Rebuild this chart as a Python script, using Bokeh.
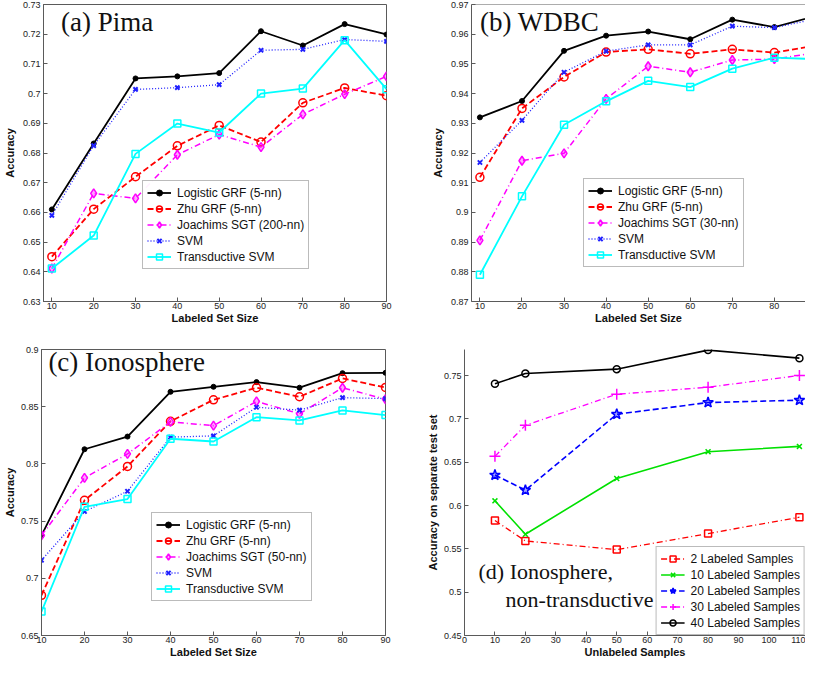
from bokeh.plotting import figure
from bokeh.layouts import column, row
from bokeh.models import FixedTicker, Range1d, Legend, LegendItem, Label, Span
from bokeh.embed import file_html
from bokeh.resources import INLINE

# ---------------- data ----------------
labeled_sizes = [10, 20, 30, 40, 50, 60, 70, 80, 90]
names_a = ["Logistic GRF (5-nn)", "Zhu GRF (5-nn)", "Joachims SGT (200-nn)", "SVM", "Transductive SVM"]
names_b = ["Logistic GRF (5-nn)", "Zhu GRF (5-nn)", "Joachims SGT (30-nn)", "SVM", "Transductive SVM"]
names_c = ["Logistic GRF (5-nn)", "Zhu GRF (5-nn)", "Joachims SGT (50-nn)", "SVM", "Transductive SVM"]

pima_logistic = [0.6610, 0.6832, 0.7051, 0.7058, 0.7069, 0.7210, 0.7162, 0.7234, 0.7199]
pima_zhu = [0.6451, 0.6611, 0.6720, 0.6824, 0.6893, 0.6837, 0.6969, 0.7019, 0.6993]
pima_joachims = [0.6411, 0.6664, 0.6647, 0.6794, 0.6862, 0.6820, 0.6930, 0.6998, 0.7058]
pima_svm = [0.6590, 0.6825, 0.7014, 0.7020, 0.7030, 0.7146, 0.7149, 0.7182, 0.7176]
pima_tsvm = [0.6411, 0.6522, 0.6797, 0.6899, 0.6869, 0.7000, 0.7017, 0.7180, 0.7015]

wdbc_logistic = [0.9320, 0.9375, 0.9544, 0.9595, 0.9609, 0.9583, 0.9649, 0.9624, 0.9662]
wdbc_zhu = [0.9118, 0.9350, 0.9456, 0.9540, 0.9549, 0.9534, 0.9549, 0.9538, 0.9562]
wdbc_joachims = [0.8906, 0.9174, 0.9199, 0.9382, 0.9492, 0.9472, 0.9513, 0.9516, 0.9538]
wdbc_svm = [0.9168, 0.9310, 0.9472, 0.9543, 0.9564, 0.9564, 0.9627, 0.9622, 0.9652]
wdbc_tsvm = [0.8790, 0.9054, 0.9295, 0.9374, 0.9443, 0.9422, 0.9484, 0.9521, 0.9516]

iono_logistic = [0.7375, 0.8128, 0.8239, 0.8630, 0.8674, 0.8715, 0.8666, 0.8793, 0.8796]
iono_zhu = [0.6851, 0.7682, 0.7978, 0.8372, 0.8560, 0.8666, 0.8587, 0.8747, 0.8668]
iono_joachims = [0.7375, 0.7878, 0.8087, 0.8367, 0.8334, 0.8546, 0.8438, 0.8666, 0.8565]
iono_svm = [0.7158, 0.7584, 0.7761, 0.8234, 0.8245, 0.8495, 0.8470, 0.8579, 0.8571]
iono_tsvm = [0.6709, 0.7625, 0.7693, 0.8220, 0.8196, 0.8408, 0.8380, 0.8467, 0.8427]

unlabeled_samples = [10, 20, 50, 80, 110]
lab2 = [0.5826, 0.5591, 0.5491, 0.5676, 0.5865]
lab10 = [0.6054, 0.5668, 0.6312, 0.6621, 0.6682]
lab20 = [0.6351, 0.6177, 0.7053, 0.7188, 0.7215]
lab30 = [0.6567, 0.6925, 0.7284, 0.7365, 0.7500]
lab40 = [0.7404, 0.7523, 0.7573, 0.7793, 0.7700]
d_names = ["2 Labeled Samples", "10 Labeled Samples", "20 Labeled Samples", "30 Labeled Samples", "40 Labeled Samples"]

# ticks
x_ticks_labeled = [10, 20, 30, 40, 50, 60, 70, 80, 90]
x_labels_labeled = ["10", "20", "30", "40", "50", "60", "70", "80", "90"]
pima_yticks = [0.63, 0.64, 0.65, 0.66, 0.67, 0.68, 0.69, 0.70, 0.71, 0.72, 0.73]
pima_ylabels = ["0.63", "0.64", "0.65", "0.66", "0.67", "0.68", "0.69", "0.7", "0.71", "0.72", "0.73"]
wdbc_yticks = [0.87, 0.88, 0.89, 0.90, 0.91, 0.92, 0.93, 0.94, 0.95, 0.96, 0.97]
wdbc_ylabels = ["0.87", "0.88", "0.89", "0.9", "0.91", "0.92", "0.93", "0.94", "0.95", "0.96", "0.97"]
iono_yticks = [0.65, 0.70, 0.75, 0.80, 0.85, 0.90]
iono_ylabels = ["0.65", "0.7", "0.75", "0.8", "0.85", "0.9"]
d_xticks = [0, 10, 20, 30, 40, 50, 60, 70, 80, 90, 100, 110]
d_xlabels = ["0", "10", "20", "30", "40", "50", "60", "70", "80", "90", "100", "110"]
d_yticks = [0.45, 0.50, 0.55, 0.60, 0.65, 0.70, 0.75]
d_ylabels = ["0.45", "0.5", "0.55", "0.6", "0.65", "0.7", "0.75"]

AX = "#5a5a5a"
SANS = "Liberation Sans"
SERIF = "Liberation Serif"


def style_axis(ax, ticks, labels, standoff):
    ax.ticker = FixedTicker(ticks=ticks)
    ax.major_label_overrides = {t: l for t, l in zip(ticks, labels)}
    ax.major_tick_in = 4
    ax.major_tick_out = 0
    ax.minor_tick_in = 0
    ax.minor_tick_out = 0
    ax.axis_line_color = AX
    ax.major_tick_line_color = AX
    ax.major_label_text_font = SANS
    ax.major_label_text_color = "#222222"
    ax.major_label_text_font_size = "9px"
    ax.major_label_standoff = standoff
    ax.axis_label_text_font = SANS
    ax.axis_label_text_font_style = "bold"
    ax.axis_label_text_font_size = "11px"
    ax.axis_label_text_color = "#111111"


def make_fig(width, height, mb, xr, yr, xt, xl, yt, yl, xlabel, ylabel, box, ylab_standoff):
    p = figure(width=width, height=height, x_range=Range1d(*xr), y_range=Range1d(*yr),
               output_backend="svg", toolbar_location=None, title=None,
               min_border_left=mb[0], min_border_right=mb[1], min_border_top=mb[2], min_border_bottom=mb[3])
    p.outline_line_color = AX if box == "full" else None
    p.grid.visible = False
    p.background_fill_color = "white"
    p.border_fill_color = "white"
    style_axis(p.xaxis[0], xt, xl, 1)
    style_axis(p.yaxis[0], yt, yl, 3)
    p.xaxis.axis_label = xlabel
    p.yaxis.axis_label = ylabel
    p.xaxis.axis_label_standoff = 0
    p.yaxis.axis_label_standoff = ylab_standoff
    if box == "top":
        p.add_layout(Span(location=yr[1], dimension="width", line_color=AX, line_width=1))
    return p


def add_series(p, x, y, color, dash, marker, size, lw, fill, mlw=1.5):
    r1 = p.line(x, y, line_color=color, line_width=lw, line_dash=dash)
    if fill:
        r2 = p.scatter(x, y, marker=marker, size=size, line_color=color, fill_color=color,
                       fill_alpha=fill, line_width=mlw)
    else:
        r2 = p.scatter(x, y, marker=marker, size=size, line_color=color, fill_color=None, line_width=mlw)
    return [r1, r2]


def add_legend(p, items, loc):
    lg = Legend(items=[LegendItem(label=n, renderers=r) for n, r in items], location=loc,
                border_line_color="#777777", border_line_width=1, background_fill_color="white",
                label_text_font=SANS, label_text_font_size="12px", label_text_color="#111111",
                glyph_width=24, glyph_height=15, label_height=15, spacing=1, padding=4,
                margin=0, label_standoff=6)
    p.add_layout(lg)


def add_method_series(p, x, logi, zhu, joa, svm, tsvm):
    return [
        add_series(p, x, logi, "#000000", "solid", "circle", 5, 1.8, 1.0, 1),
        add_series(p, x, zhu, "#ff0000", "6 3", "circle", 8, 1.8, None),
        add_series(p, x, joa, "#ff00ff", "6 3 1 3", "diamond", 9, 1.5, 0.35),
        add_series(p, x, svm, "#2020ff", "1 2", "x", 6, 1.3, None, 2),
        add_series(p, x, tsvm, "#00ffff", "solid", "square", 7, 1.8, None),
    ]


# (a) Pima
fa = make_fig(422, 326, (42, 36, 4, 20), (8, 90), (0.63, 0.73), x_ticks_labeled, x_labels_labeled,
              pima_yticks, pima_ylabels, "Labeled Set Size", "Accuracy", "full", 4)
ra = add_method_series(fa, labeled_sizes, pima_logistic, pima_zhu, pima_joachims, pima_svm, pima_tsvm)
add_legend(fa, list(zip(names_a, ra)), (99, 32))
fa.add_layout(Label(x=12.2, y=0.7189, text="(a) Pima", text_font=SERIF, text_font_size="27px",
                    text_color="#111111"))

# (b) WDBC
fb = make_fig(383, 326, (49, 0, 3, 20), (8, 87.4), (0.87, 0.97), x_ticks_labeled, x_labels_labeled,
              wdbc_yticks, wdbc_ylabels, "Labeled Set Size", "Accuracy", "top", 4)
rb = add_method_series(fb, labeled_sizes, wdbc_logistic, wdbc_zhu, wdbc_joachims, wdbc_svm, wdbc_tsvm)
add_legend(fb, list(zip(names_b, rb)), (112, 34))
fb.add_layout(Label(x=10.0, y=0.9592, text="(b) WDBC", text_font=SERIF, text_font_size="27px",
                    text_color="#111111"))

# (c) Ionosphere
fc = make_fig(422, 334, (36, 37, 5, 20), (10, 90), (0.65, 0.90), x_ticks_labeled, x_labels_labeled,
              iono_yticks, iono_ylabels, "Labeled Set Size", "Accuracy", "full", 2)
rc = add_method_series(fc, labeled_sizes, iono_logistic, iono_zhu, iono_joachims, iono_svm, iono_tsvm)
add_legend(fc, list(zip(names_c, rc)), (110, 34))
fc.add_layout(Label(x=11.6, y=0.8756, text="(c) Ionosphere", text_font=SERIF, text_font_size="27px",
                    text_color="#111111"))

# (d) Ionosphere non-transductive
fd = make_fig(383, 334, (42, 0, 23, 20), (0, 112), (0.45, 0.78), d_xticks, d_xlabels,
              d_yticks, d_ylabels, "Unlabeled Samples", "Accuracy on separate test set", "none", 2)
rd = [
    add_series(fd, unlabeled_samples, lab2, "#ff0000", "6 3 1 3", "square", 7, 1.3, None),
    add_series(fd, unlabeled_samples, lab10, "#00e000", "solid", "x", 7, 1.6, None),
    add_series(fd, unlabeled_samples, lab20, "#0000ff", "6 3", "star", 11, 1.6, 0.35),
    add_series(fd, unlabeled_samples, lab30, "#ff00ff", "6 3 1 3", "cross", 11, 1.3, None),
    add_series(fd, unlabeled_samples, lab40, "#000000", "solid", "circle", 7, 1.6, None),
]
add_legend(fd, list(zip(d_names, rd)), "bottom_right")
fd.add_layout(Label(x=4.6, y=0.510, text="(d) Ionosphere,", text_font=SERIF, text_font_size="22px",
                    text_color="#111111"))
fd.add_layout(Label(x=13.5, y=0.477, text="non-transductive", text_font=SERIF, text_font_size="22px",
                    text_color="#111111"))

layout = column(row(fa, fb), row(fc, fd))
open("out.html", "w").write(file_html(layout, INLINE))
